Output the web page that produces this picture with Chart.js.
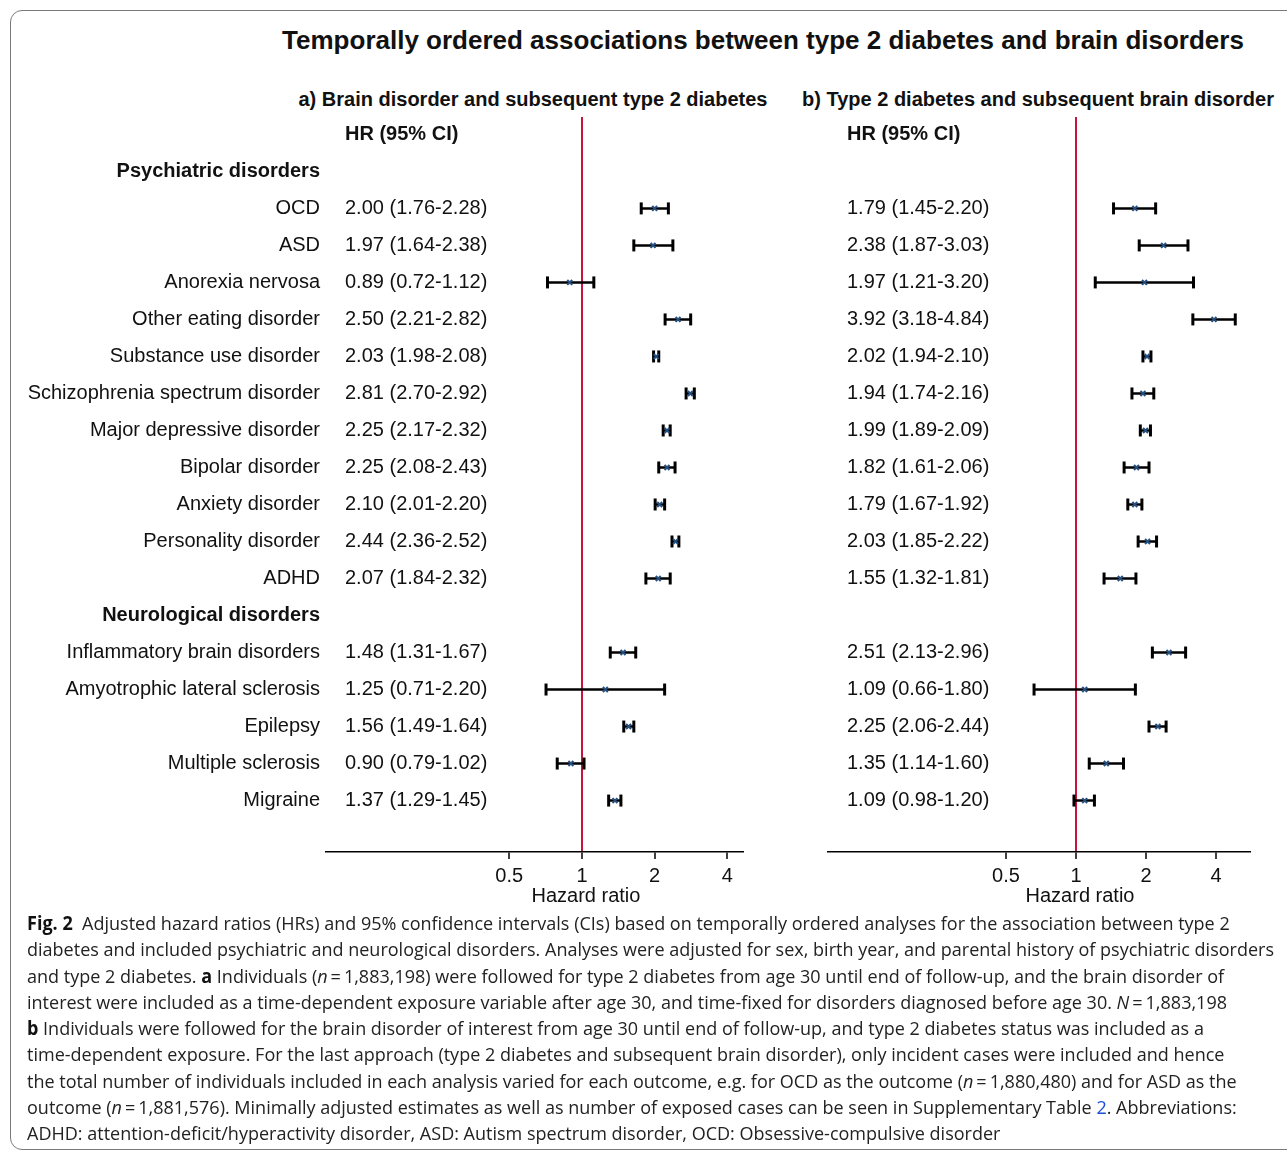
<!DOCTYPE html>
<html>
<head>
<meta charset="utf-8">
<script src="https://cdn.jsdelivr.net/npm/chart.js@4.4.1/dist/chart.umd.min.js"></script>
<style>
    html, body { margin: 0; padding: 0; background: #fff; }
    body { width: 1287px; height: 1155px; position: relative; overflow: hidden; }
    .frame {
        position: absolute; left: 10px; top: 10px; width: 1320px; height: 1140px;
        border: 1.5px solid #7a7a7a; border-radius: 12px; box-sizing: border-box;
    }
    .ttl { position: absolute; font-family: "Liberation Sans", Arial, sans-serif; font-weight: bold;
           color: #111; white-space: nowrap; text-align: center; }
    canvas { position: absolute; }
    #caption {
        position: absolute; left: 27px; top: 910px; transform-origin: 0 0;
        font-family: "Open Sans", "Noto Sans", sans-serif; font-size: 19px; color: #222;
        line-height: 26.3px;
    }
    #caption div { white-space: nowrap; }
    #caption b { color: #111; }
    .lnk { color: #1a4fd6; }
</style>
</head>
<body>
<div class="frame"></div>
<div class="ttl" style="left:263px; width:1000px; top:25px; font-size:26px;">Temporally ordered associations between type 2 diabetes and brain disorders</div>
<div class="ttl" style="left:283px; width:500px; top:88px; font-size:20px;">a) Brain disorder and subsequent type 2 diabetes</div>
<div class="ttl" style="left:788px; width:500px; top:88px; font-size:20px;">b) Type 2 diabetes and subsequent brain disorder</div>

<canvas id="chartA" width="760" height="920" style="left:0; top:0;"></canvas>
<canvas id="chartB" width="507" height="920" style="left:780px; top:0;"></canvas>

<div id="caption">
<div><b>Fig. 2</b>&nbsp; Adjusted hazard ratios (HRs) and 95% confidence intervals (CIs) based on temporally ordered analyses for the association between type 2</div>
<div>diabetes and included psychiatric and neurological disorders. Analyses were adjusted for sex, birth year, and parental history of psychiatric disorders</div>
<div>and type 2 diabetes. <b>a</b> Individuals (<i>n</i>&#8201;=&#8201;1,883,198) were followed for type 2 diabetes from age 30 until end of follow-up, and the brain disorder of</div>
<div>interest were included as a time-dependent exposure variable after age 30, and time-fixed for disorders diagnosed before age 30. <i>N</i>&#8201;=&#8201;1,883,198</div>
<div><b>b</b> Individuals were followed for the brain disorder of interest from age 30 until end of follow-up, and type 2 diabetes status was included as a</div>
<div>time-dependent exposure. For the last approach (type 2 diabetes and subsequent brain disorder), only incident cases were included and hence</div>
<div>the total number of individuals included in each analysis varied for each outcome, e.g. for OCD as the outcome (<i>n</i>&#8201;=&#8201;1,880,480) and for ASD as the</div>
<div>outcome (<i>n</i>&#8201;=&#8201;1,881,576). Minimally adjusted estimates as well as number of exposed cases can be seen in Supplementary Table <span class="lnk">2</span>. Abbreviations:</div>
<div>ADHD: attention-deficit/hyperactivity disorder, ASD: Autism spectrum disorder, OCD: Obsessive-compulsive disorder</div>
</div>

<script>
// ── DONNÉES ──
const psychiatric = ["OCD", "ASD", "Anorexia nervosa", "Other eating disorder", "Substance use disorder",
    "Schizophrenia spectrum disorder", "Major depressive disorder", "Bipolar disorder",
    "Anxiety disorder", "Personality disorder", "ADHD"];
const neurological = ["Inflammatory brain disorders", "Amyotrophic lateral sclerosis", "Epilepsy",
    "Multiple sclerosis", "Migraine"];

// a) brain disorder -> type 2 diabetes
const hrA = [2.00, 1.97, 0.89, 2.50, 2.03, 2.81, 2.25, 2.25, 2.10, 2.44, 2.07, 1.48, 1.25, 1.56, 0.90, 1.37];
const loA = [1.76, 1.64, 0.72, 2.21, 1.98, 2.70, 2.17, 2.08, 2.01, 2.36, 1.84, 1.31, 0.71, 1.49, 0.79, 1.29];
const hiA = [2.28, 2.38, 1.12, 2.82, 2.08, 2.92, 2.32, 2.43, 2.20, 2.52, 2.32, 1.67, 2.20, 1.64, 1.02, 1.45];

// b) type 2 diabetes -> brain disorder
const hrB = [1.79, 2.38, 1.97, 3.92, 2.02, 1.94, 1.99, 1.82, 1.79, 2.03, 1.55, 2.51, 1.09, 2.25, 1.35, 1.09];
const loB = [1.45, 1.87, 1.21, 3.18, 1.94, 1.74, 1.89, 1.61, 1.67, 1.85, 1.32, 2.13, 0.66, 2.06, 1.14, 0.98];
const hiB = [2.20, 3.03, 3.20, 4.84, 2.10, 2.16, 2.09, 2.06, 1.92, 2.22, 1.81, 2.96, 1.80, 2.44, 1.60, 1.20];

const xTicks = [0.5, 1, 2, 4];

// ── LIGNES ──
const rowLabels = ["", "Psychiatric disorders", ...psychiatric, "Neurological disorders", ...neurological];
const headerRows = [1, 2 + psychiatric.length];
const dataRows = rowLabels.map((l, i) => i).filter(i => i > 0 && !headerRows.includes(i));

const FONT = '"Liberation Sans", Arial, sans-serif';
const RED = '#c8143c';
const MARK = '#244f7e';

const fmt = v => v.toFixed(2);

function makeForest(canvasId, hr, lo, hi, opts) {
    const ctx = document.getElementById(canvasId);

    const points = dataRows.map((r, i) => ({ x: hr[i], y: r }));
    const ci = [];
    dataRows.forEach((r, i) => {
        ci.push({ x: lo[i], y: r }, { x: hi[i], y: r }, { x: null, y: null });
    });

    const hrText = {
        id: 'hrText',
        afterDraw(chart) {
            const c = chart.ctx;
            const ys = chart.scales.y, xs = chart.scales.x;
            const x0 = chart.chartArea.left + 19;
            c.save();
            c.fillStyle = '#111';
            c.textBaseline = 'middle';
            c.textAlign = 'left';
            c.font = 'bold 20px ' + FONT;
            c.fillText('HR (95% CI)', x0, ys.getPixelForValue(0));
            c.font = '20px ' + FONT;
            dataRows.forEach((r, i) => {
                c.fillText(fmt(hr[i]) + ' (' + fmt(lo[i]) + '-' + fmt(hi[i]) + ')', x0, ys.getPixelForValue(r));
            });
            c.textAlign = 'center';
            c.fillText('Hazard ratio', xs.getPixelForValue(1) + 4, 896);
            c.restore();
        }
    };

    new Chart(ctx, {
        type: 'scatter',
        data: {
            datasets: [
                {
                    data: points,
                    pointStyle: 'crossRot',
                    pointRadius: 3.5,
                    pointBorderWidth: 2,
                    borderColor: MARK,
                    backgroundColor: MARK,
                    order: 0
                },
                {
                    data: ci,
                    showLine: true,
                    spanGaps: false,
                    borderColor: '#000',
                    borderWidth: 2.5,
                    pointStyle: 'line',
                    pointRotation: 90,
                    pointRadius: 6,
                    pointBorderWidth: 3,
                    pointBorderColor: '#000',
                    order: 1
                }
            ]
        },
        options: {
            responsive: false,
            devicePixelRatio: 1,
            animation: false,
            events: [],
            layout: { padding: { top: 117, right: opts.padRight, bottom: 0, left: 0 } },
            plugins: { legend: { display: false }, tooltip: { enabled: false } },
            scales: {
                x: {
                    type: 'logarithmic',
                    min: opts.min,
                    max: opts.max,
                    afterBuildTicks: axis => { axis.ticks = xTicks.map(v => ({ value: v })); },
                    afterFit: axis => { axis.height = 920 - 852; },
                    ticks: {
                        callback: v => String(v),
                        autoSkip: false,
                        maxRotation: 0,
                        padding: 5,
                        color: '#111',
                        font: { family: FONT, size: 20 }
                    },
                    grid: {
                        color: c => (c.tick && c.tick.value === 1) ? RED : 'rgba(0,0,0,0)',
                        lineWidth: 2,
                        drawTicks: true,
                        tickLength: 7,
                        tickColor: '#000',
                        tickWidth: 1.5
                    },
                    border: { display: true, color: '#000', width: 1.5 }
                },
                y: {
                    type: 'linear',
                    reverse: true,
                    min: -0.47,
                    max: 19.39,
                    afterBuildTicks: axis => { axis.ticks = rowLabels.map((l, i) => ({ value: i })); },
                    afterFit: axis => { axis.width = opts.yWidth; },
                    ticks: {
                        display: opts.showLabels,
                        autoSkip: false,
                        padding: 6,
                        color: '#111',
                        callback: v => rowLabels[v] || '',
                        font: c => ({
                            family: FONT,
                            size: 20,
                            weight: (c.tick && headerRows.includes(c.tick.value)) ? 'bold' : 'normal'
                        })
                    },
                    grid: { display: false, drawTicks: false },
                    border: { display: false }
                }
            }
        },
        plugins: [hrText]
    });
}

makeForest('chartA', hrA, loA, hiA, { min: 0.0871, max: 4.645, yWidth: 326, padRight: 17, showLabels: true });
makeForest('chartB', hrB, loB, hiB, { min: 0.0858, max: 5.60, yWidth: 48, padRight: 37, showLabels: false });

// ── LÉGENDE : ajustement largeur ──
const cap = document.getElementById('caption');
const firstLine = cap.querySelector('div');
const w = firstLine.getBoundingClientRect().width;
cap.style.transform = 'scaleX(' + (1247 / w) + ')';
</script>
</body>
</html>
